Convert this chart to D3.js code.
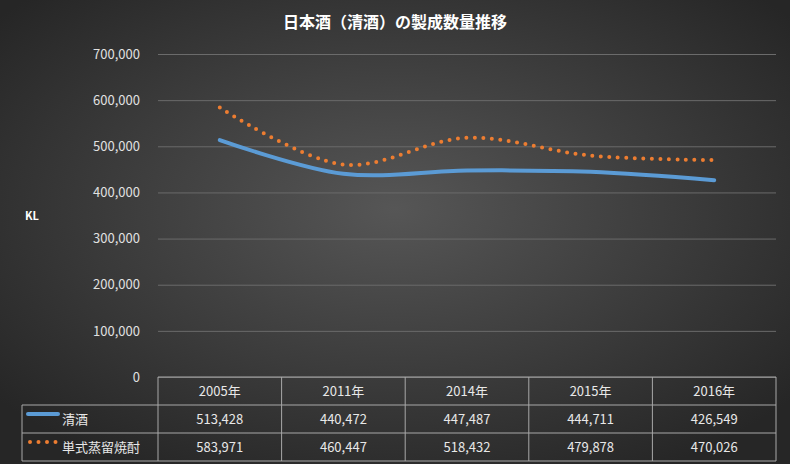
<!DOCTYPE html>
<html><head><meta charset="utf-8">
<script src="https://cdn.jsdelivr.net/npm/d3@7"></script>
<style>body{margin:0;background:#333}svg{display:block}</style>
</head><body>
<svg id="c" width="790" height="464"></svg>
<script>
const categories = ["2005年","2011年","2014年","2015年","2016年"];
const seriesNames = ["清酒","単式蒸留焼酎"];
const seiShu = [513428,440472,447487,444711,426549];
const shochu = [583971,460447,518432,479878,470026];
const yTicks = [0,100000,200000,300000,400000,500000,600000,700000];

const svg = d3.select("#c");
const defs = svg.append("defs");
const g = defs.append("radialGradient").attr("id","bg").attr("cx","50%").attr("cy","45%").attr("r","65%");
g.append("stop").attr("offset","0%").attr("stop-color","#565656");
g.append("stop").attr("offset","100%").attr("stop-color","#262626");
svg.append("rect").attr("width",790).attr("height",464).attr("fill","url(#bg)");

const L=158,R=776,T=54,B=377;
const x = d3.scaleBand().domain(categories).range([L,R]);
const y = d3.scaleLinear().domain([0,700000]).range([B,T]);
const font="'Noto Sans CJK JP', 'Noto Sans', sans-serif";

svg.append("text").attr("x",395).attr("y",28).attr("text-anchor","middle").attr("fill","#fff")
 .attr("font-family",font).attr("font-weight","bold").attr("font-size",16).text("日本酒（清酒）の製成数量推移");

const ya = svg.append("g").attr("transform",`translate(${L},0)`)
 .call(d3.axisLeft(y).tickValues(yTicks).tickSize(-(R-L)).tickFormat(d3.format(",")));
ya.select(".domain").remove();
ya.selectAll("line").attr("stroke","#6b6b6b");
ya.selectAll("text").attr("fill","#e0e0e0").attr("font-family",font).attr("font-size",13).attr("x",-18);

svg.append("text").attr("x",25).attr("y",220).attr("fill","#fff").attr("font-family",font)
 .attr("font-weight","bold").attr("font-size",11).text("KL");

const line = d3.line().x((d,i)=>x(categories[i])+x.bandwidth()/2).y(d=>y(d)).curve(d3.curveCatmullRom.alpha(0.5));
svg.append("path").attr("d",line(seiShu)).attr("fill","none").attr("stroke","#5B9BD5").attr("stroke-width",4).attr("stroke-linecap","round");
svg.append("path").attr("d",line(shochu)).attr("fill","none").attr("stroke","#ED7D31").attr("stroke-width",4).attr("stroke-linecap","round").attr("stroke-dasharray","0 8.5");

// table
const rows=[377,405,433,461];
const tc="#a8a8a8";
const tbl=svg.append("g");
rows.forEach((ry,i)=>tbl.append("line").attr("x1",i==0?L:22).attr("x2",R).attr("y1",ry).attr("y2",ry).attr("stroke",tc));
[...categories.map(c=>x(c)),R].forEach(cx=>tbl.append("line").attr("x1",cx).attr("x2",cx).attr("y1",B).attr("y2",461).attr("stroke",tc));
tbl.append("line").attr("x1",22).attr("x2",22).attr("y1",405).attr("y2",461).attr("stroke",tc);
categories.forEach(c=>tbl.append("text").attr("x",x(c)+x.bandwidth()/2).attr("y",396).attr("text-anchor","middle")
 .attr("fill","#e8e8e8").attr("font-family",font).attr("font-size",13).text(c));
const fmt=d3.format(",");
[seiShu,shochu].forEach((s,k)=>{
  const cy=rows[k+1]+19;
  s.forEach((v,i)=>tbl.append("text").attr("x",x(categories[i])+x.bandwidth()/2).attr("y",cy).attr("text-anchor","middle")
   .attr("fill","#e8e8e8").attr("font-family",font).attr("font-size",13).text(fmt(v)));
  tbl.append("text").attr("x",62).attr("y",cy).attr("fill","#e8e8e8").attr("font-family",font).attr("font-size",13).text(seriesNames[k]);
});
tbl.append("line").attr("x1",28).attr("x2",58).attr("y1",414).attr("y2",414).attr("stroke","#5B9BD5").attr("stroke-width",4).attr("stroke-linecap","round");
tbl.append("line").attr("x1",30).attr("x2",58).attr("y1",442).attr("y2",442).attr("stroke","#ED7D31").attr("stroke-width",4).attr("stroke-linecap","round").attr("stroke-dasharray","0 8.5");
</script>
</body></html>
